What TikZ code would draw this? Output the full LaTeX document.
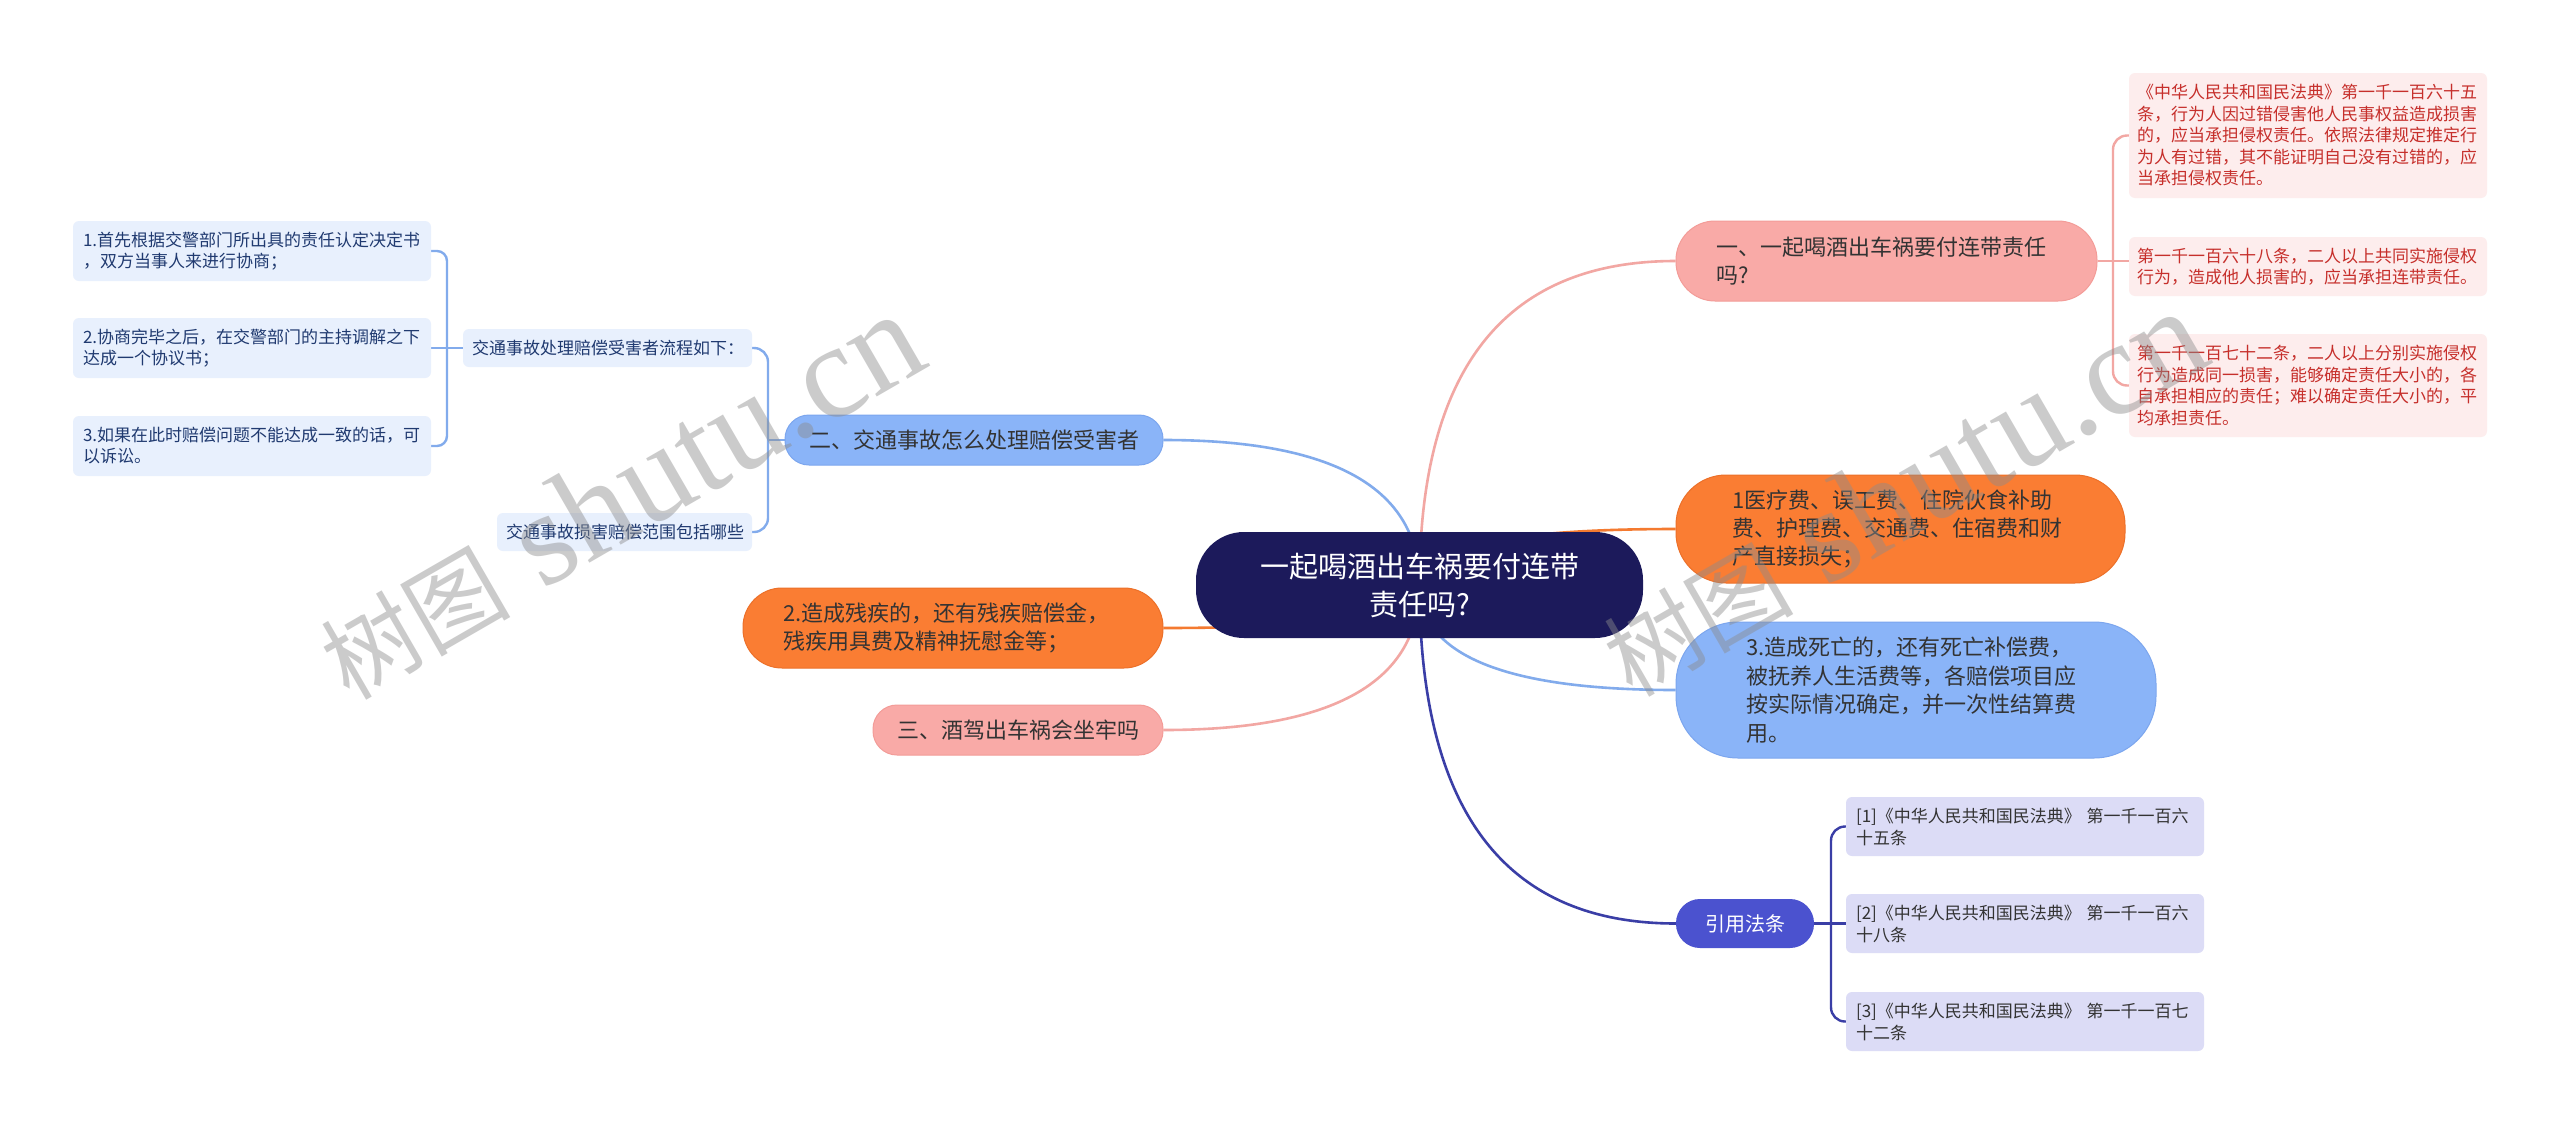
\documentclass[tikz,border=0pt]{standalone}
\usepackage{fontspec}
\setmainfont{Noto Sans CJK SC}
\newfontfamily\wmserif{Liberation Serif}
\usetikzlibrary{calc}
\pgfdeclarelayer{back}
\pgfdeclarelayer{bg}
\pgfdeclarelayer{top}
\pgfsetlayers{back,bg,main,top}

\definecolor{rootc}{HTML}{1C1A5B}
\definecolor{pinkc}{HTML}{F9AAA7}
\definecolor{pinkd}{HTML}{F39C98}
\definecolor{orangec}{HTML}{FA7D33}
\definecolor{oranged}{HTML}{EC7029}
\definecolor{bluec}{HTML}{8AB4F8}
\definecolor{blued}{HTML}{7CA6EE}
\definecolor{indc}{HTML}{4B52CF}
\definecolor{lavc}{HTML}{DCDCF6}
\definecolor{lbluec}{HTML}{E8F0FD}
\definecolor{lpinkc}{HTML}{FDEDED}
\definecolor{redt}{HTML}{C62F2B}
\definecolor{navyt}{HTML}{203A70}
\definecolor{darkt}{HTML}{333333}
\definecolor{pinkl}{HTML}{F2A7A3}
\definecolor{bluel}{HTML}{82ABEC}
\definecolor{orangel}{HTML}{F47A30}
\definecolor{indl}{HTML}{3A3EA6}
\definecolor{wmc}{HTML}{8C8C8C}

\newcommand\fsz[2]{\fontsize{#1}{#2}\selectfont}
\newcommand\rootlink[2]{\draw[conn,#1] (root.center) .. controls ($(root.center)!0.667!(root.center |- #2)$) and ($(#2)!0.667!(root.center |- #2)$) .. (#2);}

\begin{document}
\begin{tikzpicture}[x=1pt,y=-1pt,
  every node/.style={inner ysep=0pt},
  capsule/.style={align=left, text=darkt, line width=1pt},
  centercap/.style={align=center, text=darkt, line width=1pt, inner xsep=0pt},
  small/.style={align=left, rounded corners=6pt},
  citebox/.style={small, fill=lavc, text=darkt, text width=338pt, inner xsep=10pt, minimum height=59pt, font=\fsz{17}{22}},
  conn/.style={line width=2.6pt},
  brk/.style={line width=2.4pt},
  wm/.style={text=wmc, text opacity=0.45, inner sep=0pt}
]
\begin{pgfonlayer}{back}
\fill[white] (0,0) rectangle (2560,1125);
\end{pgfonlayer}
\useasboundingbox (0,0) rectangle (2560,1125);

% root
\node[fill=rootc, text=white, align=center, minimum width=447pt, minimum height=106pt,
      rounded corners=48pt, inner sep=0pt, font=\fsz{29}{38}] (root) at (1419.5,585)
  {一起喝酒出车祸要付连带\\责任吗?};

% right branch 1
\node[capsule, fill=pinkc, draw=pinkd, text width=340pt, inner xsep=40.5pt,
      minimum height=80pt, rounded corners=39pt, font=\fsz{22}{28}] (n1) at (1886.5,261)
  {一、一起喝酒出车祸要付连带责任\\吗?};
\node[small, fill=lpinkc, text=redt, text width=342pt, inner xsep=8pt, minimum height=125pt,
      font=\fsz{17}{21.5}] (n1a) at (2308,135.5)
  {《中华人民共和国民法典》第一千一百六十五\\条，行为人因过错侵害他人民事权益造成损害\\的，应当承担侵权责任。依照法律规定推定行\\为人有过错，其不能证明自己没有过错的，应\\当承担侵权责任。};
\node[small, fill=lpinkc, text=redt, text width=342pt, inner xsep=8pt, minimum height=59pt,
      font=\fsz{17}{21.5}] (n1b) at (2308,266.5)
  {第一千一百六十八条，二人以上共同实施侵权\\行为，造成他人损害的，应当承担连带责任。};
\node[small, fill=lpinkc, text=redt, text width=342pt, inner xsep=8pt, minimum height=103pt,
      font=\fsz{17}{21.5}] (n1c) at (2308,385.5)
  {第一千一百七十二条，二人以上分别实施侵权\\行为造成同一损害，能够确定责任大小的，各\\自承担相应的责任；难以确定责任大小的，平\\均承担责任。};

% right branch 2, 3
\node[capsule, fill=orangec, draw=oranged, text width=337pt, inner xsep=56pt,
      minimum height=108pt, rounded corners=50pt, font=\fsz{22}{28}] (n4) at (1900.5,529)
  {1医疗费、误工费、住院伙食补助\\费、护理费、交通费、住宿费和财\\产直接损失；};
\node[capsule, fill=bluec, draw=blued, text width=340pt, inner xsep=70pt,
      minimum height=136pt, rounded corners=62pt, font=\fsz{22}{28.7}] (n5) at (1916,690)
  {3.造成死亡的，还有死亡补偿费，\\被抚养人生活费等，各赔偿项目应\\按实际情况确定，并一次性结算费\\用。};

% citations
\node[fill=indc, text=white, align=center, minimum width=138pt, minimum height=49pt,
      rounded corners=24pt, inner sep=0pt, font=\fsz{20}{24}] (cite) at (1745,923.5) {引用法条};
\node[citebox] (c1) at (2025,826.5)
  {[1]《中华人民共和国民法典》 第一千一百六\\十五条};
\node[citebox] (c2) at (2025,923.5)
  {[2]《中华人民共和国民法典》 第一千一百六\\十八条};
\node[citebox] (c3) at (2025,1021.5)
  {[3]《中华人民共和国民法典》 第一千一百七\\十二条};

% left branch
\node[centercap, fill=bluec, draw=blued, minimum width=378pt, minimum height=50pt,
      rounded corners=24pt, font=\fsz{22}{28}] (n2) at (974,440)
  {二、交通事故怎么处理赔偿受害者};
\node[small, fill=lbluec, text=navyt, text width=271pt, inner xsep=9pt, minimum height=38pt,
      font=\fsz{17}{21}] (p1) at (607.5,348)
  {交通事故处理赔偿受害者流程如下：};
\node[small, fill=lbluec, text=navyt, text width=237pt, inner xsep=9pt, minimum height=38pt,
      font=\fsz{17}{21}] (p2) at (624.5,532)
  {交通事故损害赔偿范围包括哪些};
\node[small, fill=lbluec, text=navyt, text width=338pt, inner xsep=10pt, minimum height=60pt,
      font=\fsz{17}{21}] (s1) at (252,251)
  {1.首先根据交警部门所出具的责任认定决定书\\，双方当事人来进行协商；};
\node[small, fill=lbluec, text=navyt, text width=338pt, inner xsep=10pt, minimum height=60pt,
      font=\fsz{17}{21}] (s2) at (252,348)
  {2.协商完毕之后，在交警部门的主持调解之下\\达成一个协议书；};
\node[small, fill=lbluec, text=navyt, text width=338pt, inner xsep=10pt, minimum height=60pt,
      font=\fsz{17}{21}] (s3) at (252,446)
  {3.如果在此时赔偿问题不能达成一致的话，可\\以诉讼。};

\node[capsule, fill=orangec, draw=oranged, text width=340pt, inner xsep=40pt,
      minimum height=80pt, rounded corners=39pt, font=\fsz{22}{28}] (n3) at (953,628)
  {2.造成残疾的，还有残疾赔偿金，\\残疾用具费及精神抚慰金等；};
\node[centercap, fill=pinkc, draw=pinkd, minimum width=290pt, minimum height=50pt,
      rounded corners=24pt, font=\fsz{22}{28}] (n6) at (1018,730)
  {三、酒驾出车祸会坐牢吗};

% bracket trunks
\coordinate (tA) at (2113,261);
\coordinate (tB) at (768,440);
\coordinate (tC) at (447,348);
\coordinate (tD) at (1831,923);

\begin{pgfonlayer}{bg}
  \rootlink{pinkl}{n1.west}
  \rootlink{orangel}{n4.west}
  \rootlink{bluel}{n5.west}
  \rootlink{indl}{cite.west}
  \rootlink{bluel}{n2.east}
  \rootlink{orangel}{n3.east}
  \rootlink{pinkl}{n6.east}

  \draw[brk, pinkl, rounded corners=14pt] (n1a.west) -- (n1a.west -| tA) -- (n1c.west -| tA) -- (n1c.west);
  \draw[brk, pinkl] (n1.east) -- (n1.east -| n1b.west);

  \draw[brk, bluel, rounded corners=14pt] (p1.east) -- (p1.east -| tB) -- (p2.east -| tB) -- (p2.east);
  \draw[brk, bluel] (n2.west) -- (n2.west -| tB);

  \draw[brk, bluel, rounded corners=10pt] (s1.east) -- (s1.east -| tC) -- (s3.east -| tC) -- (s3.east);
  \draw[brk, bluel] (p1.west) -- (s2.east);

  \draw[brk, indl, rounded corners=14pt] (c1.west) -- (c1.west -| tD) -- (c3.west -| tD) -- (c3.west);
  \draw[brk, indl] (cite.east) -- (c2.west);
\end{pgfonlayer}

\begin{pgfonlayer}{top}
  \node[wm, anchor=base west, rotate=30] (wm1) at (349,702)
    {{\fsz{95}{95}树图}{\wmserif\fsz{134}{134} shutu.cn}};
  \node[wm, anchor=base west, rotate=30] (wm2) at (1632,699)
    {{\fsz{95}{95}树图}{\wmserif\fsz{134}{134} shutu.cn}};
\end{pgfonlayer}
\end{tikzpicture}
\end{document}
